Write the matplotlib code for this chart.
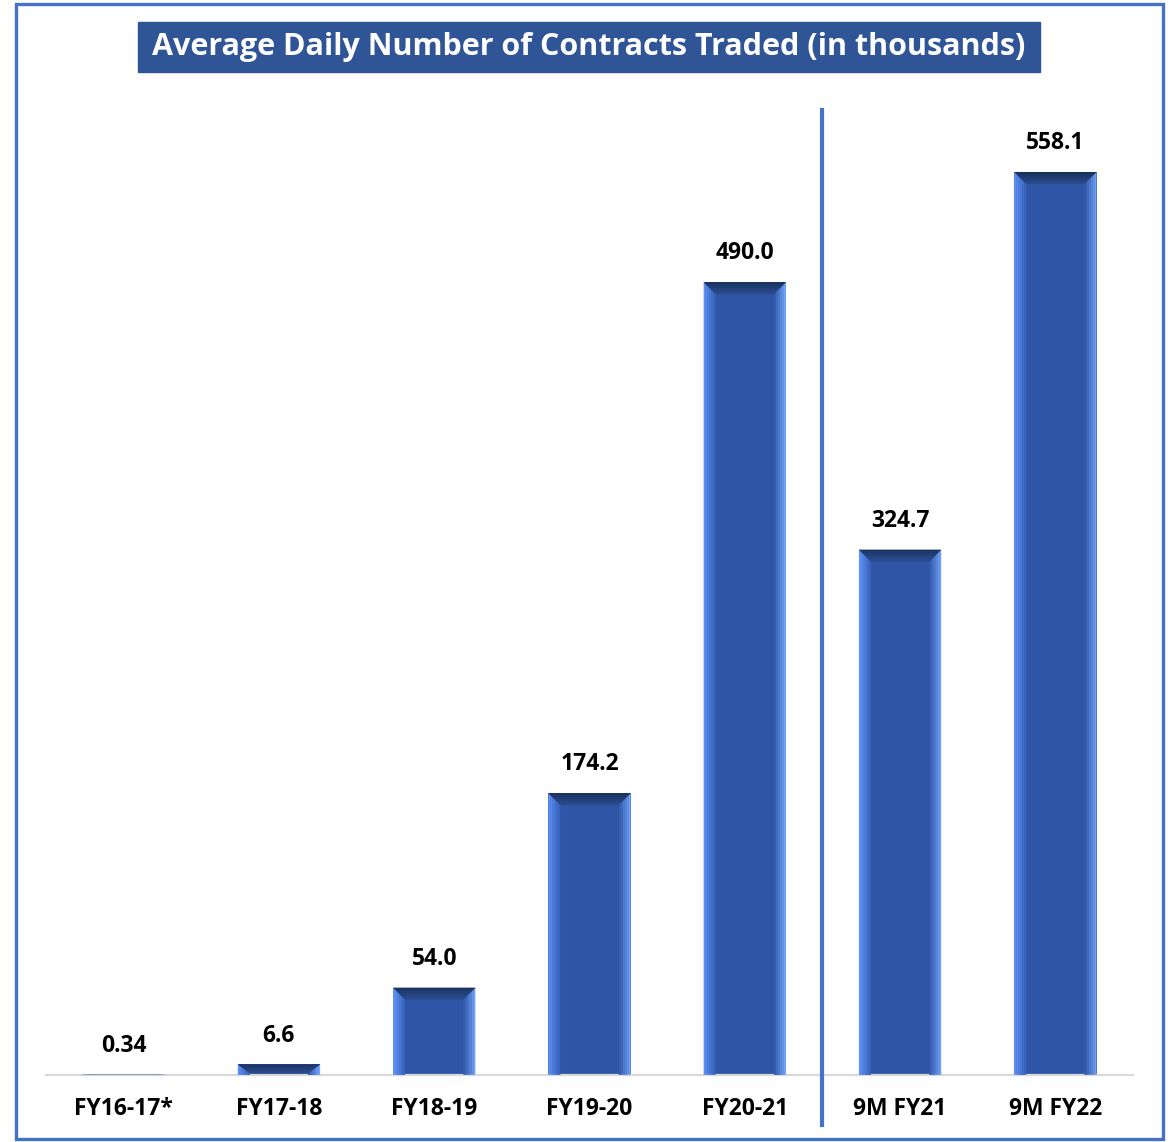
import matplotlib.pyplot as plt
import numpy as np
from matplotlib.patches import Polygon, Rectangle
from matplotlib.colors import to_rgb

plt.rcParams['font.family'] = ['Open Sans', 'DejaVu Sans']

categories = ['FY16-17*', 'FY17-18', 'FY18-19', 'FY19-20', 'FY20-21', '9M FY21', '9M FY22']
values = [0.34, 6.6, 54.0, 174.2, 490.0, 324.7, 558.1]
value_labels = ['0.34', '6.6', '54.0', '174.2', '490.0', '324.7', '558.1']
title = 'Average Daily Number of Contracts Traded (in thousands)'

W, H, DPI = 1175, 1142, 100
BODY = '#2E55A6'
FONT_SIZE = 16.5
BAR_WIDTH = 0.53

fig = plt.figure(figsize=(W / DPI, H / DPI), dpi=DPI)
# axes placed in pixels: x 46..1133, y 110..1075 (from top)
ax = fig.add_axes([46 / W, (H - 1075) / H, (1133 - 46) / W, (1075 - 110) / H])
ymax = 596.4
ax.set_xlim(-0.5, len(categories) - 0.5)
ax.set_ylim(0, ymax)

x = np.arange(len(categories))
ax.bar(x, values, width=BAR_WIDTH, color=BODY, zorder=2)

# bevel effect drawn on top of each bar
px_x = (1133 - 46) / len(categories)
px_y = (1075 - 110) / ymax
bx = 12 / px_x
by_full = 12 / px_y


def mix(c1, c2, t):
    a, b = np.array(to_rgb(c1)), np.array(to_rgb(c2))
    return tuple(a + (b - a) * t)


n = 6
for xi, v in zip(x, values):
    x0, x1 = xi - BAR_WIDTH / 2, xi + BAR_WIDTH / 2
    by = min(by_full, v * 0.85)
    for k in range(n):
        ta, tb = k / n, (k + 1) / n
        tm = (ta + tb) / 2
        # left side: bright at edge, fades to body
        ax.add_patch(Polygon([(x0 + bx * ta, 0), (x0 + bx * ta, v - by * ta),
                              (x0 + bx * tb, v - by * tb), (x0 + bx * tb, 0)],
                             closed=True, lw=0, color=mix('#6497FF', '#3460B8', tm), zorder=3))
        # right side: bright at edge
        ax.add_patch(Polygon([(x1 - bx * ta, 0), (x1 - bx * ta, v - by * ta),
                              (x1 - bx * tb, v - by * tb), (x1 - bx * tb, 0)],
                             closed=True, lw=0, color=mix('#78AAFF', '#2F57AA', tm), zorder=3))
        # top face: dark navy
        ax.add_patch(Polygon([(x0 + bx * ta, v - by * ta), (x1 - bx * ta, v - by * ta),
                              (x1 - bx * tb, v - by * tb), (x0 + bx * tb, v - by * tb)],
                             closed=True, lw=0, color=mix('#182E58', '#2A4C90', tm), zorder=4))

for xi, v, lab in zip(x, values, value_labels):
    ax.annotate(lab, (xi, v), xytext=(0, 12), textcoords='offset points',
                ha='center', va='bottom', fontsize=FONT_SIZE, fontweight='bold', color='black')

ax.set_xticks(x)
ax.set_xticklabels(categories, fontsize=FONT_SIZE, fontweight='bold')
ax.tick_params(axis='x', length=0, pad=16)
ax.set_yticks([])
for side in ['top', 'left', 'right']:
    ax.spines[side].set_visible(False)
ax.spines['bottom'].set_color('#D9D9D9')
ax.spines['bottom'].set_linewidth(1.6)

# separator between full years and 9M periods
ax.axvline(4.5, ymin=-50 / 965, ymax=1.0, color='#4472C4', lw=3, clip_on=False, zorder=5)

# title box
fig.patches.append(Rectangle((138 / W, (H - 72) / H), (1040 - 138) / W, 50 / H,
                             transform=fig.transFigure, color='#2F5597', zorder=0))
fig.text(589 / W, (H - 47) / H, title, ha='center', va='center', color='white',
         fontsize=22, fontweight='bold')

# outer frame
fig.patches.append(Rectangle((16 / W, 3 / H), (1163 - 16) / W, (1139 - 4) / H,
                             transform=fig.transFigure, fill=False, edgecolor='#4472C4', lw=2.4))

fig.savefig('out.png', dpi=DPI)
